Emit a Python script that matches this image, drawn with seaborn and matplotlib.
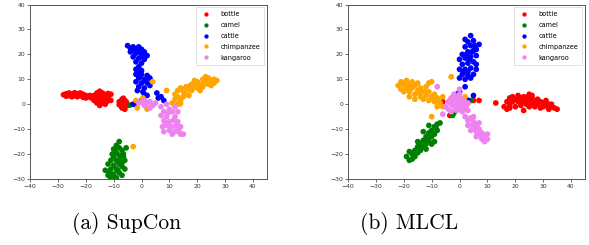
import matplotlib
matplotlib.use("Agg")
import matplotlib.pyplot as plt
import seaborn as sns
import pandas as pd

labels = ["bottle", "camel", "cattle", "chimpanzee", "kangaroo"]
colors = ["red", "green", "blue", "orange", "violet"]
captions = ["(a) SupCon", "(b) MLCL"]
xticks = [-40, -30, -20, -10, 0, 10, 20, 30, 40]
yticks = [-30, -20, -10, 0, 10, 20, 30, 40]

# ---- SupCon ----
supcon_bottle_x = [-28, -27, -27, -26, -26, -25, -25, -24, -24, -23, -23, -22, -22, -21, -21, -20, -20, -19,
                   -18, -17, -17, -16, -16, -16, -15, -15, -15, -15, -14, -14, -14, -13, -13, -13, -12, -12, -11, -11,
                   -8, -7.5, -7, -7, -7, -6, -6, -6, -5.5, -5, -8, -6.5, -2, 0, 1,
                   -26.5, -24.5, -22.5, -20.5, -18.5, -14.5, -12.5, -16.5, -6.5]
supcon_bottle_y = [3.8, 4.2, 3.2, 4.5, 3.5, 4.0, 3.0, 4.6, 3.6, 4.2, 3.0, 4.5, 3.5, 4.0, 2.8, 3.5, 2.5, 3.0,
                   2.5, 3.5, 1.5, 4.5, 2.5, 0.5, 5.2, 3.5, 1.5, -0.5, 4.5, 2.5, 0.5, 3.8, 1.8, 0, 4.3, 2.5, 4.0, 1.5,
                   1.0, -0.5, 2, 0.5, -1.5, 1.5, 0, -2, 1, -0.5, -0.2, -1, 0.8, 1.5, 0.5,
                   3.9, 3.3, 3.9, 3.1, 3.5, 3.0, 1.0, 1.5, 2.4]
supcon_camel_x = [-8, -9, -8, -10, -7, -9, -8, -6.5, -10, -7.5, -9, -11, -6, -8, -10, -12, -7, -9, -11, -13,
                  -6, -8, -10, -12, -9, -11, -7, -5.5, -10.5, -8.5, -4,
                  -9.5, -7, -11.5, -6.5, -10, -8.5]
supcon_camel_y = [-15, -16.5, -17.5, -18, -18.5, -19.5, -20.5, -20, -21, -22, -22.5, -22.5, -22.5, -24, -24.5,
                  -24, -25, -26, -26, -26.5, -26, -27.5, -28, -28.5, -29.5, -29.7, -28.5, -17.5, -20, -23, -0.3,
                  -18, -23.5, -27.5, -21, -29, -26.5]
supcon_cattle_x = [-5, -4, -3, -2, -1, 0, -4, -2, 0, 1, 2, -3, -1, 1, -2, 0, -1, -2, 0,
                   -2, 0, 2, -1, 1, 3, -2, 0, 2, -1, 1, 3, -1.5, 0.5,
                   1, 2, 5.5, 7, 6, 8, -3, -2.5,
                   -3.5, -1.5, 0.5, -0.5, 1.5, -1]
supcon_cattle_y = [23.5, 22.5, 23, 22, 23, 22, 21, 20.5, 20, 21, 19.5, 19, 18.5, 18, 17, 16.5, 15, 14, 13.5,
                   12, 12, 11.5, 10.5, 10, 10.5, 9, 8.5, 8.5, 7, 6.5, 7.5, 5.5, 5,
                   4, 3.5, 4.5, 3, 2.5, 1.5, 0, 0,
                   21.5, 21, 19, 11, 9.5, 12.5]
supcon_chimp_x = [11, 12, 12, 13, 13, 13, 14, 14, 15, 15, 16, 16, 17, 18, 18, 19, 20, 20, 21, 22, 22, 23, 24,
                  24, 25, 26, 27, 25, 21, 17, 14, 19, 23,
                  4, 9, -2, -1.5, 2, 0.5, -3,
                  15.5, 17.5, 19.5, 22.5, 26]
supcon_chimp_y = [0.5, 2, 4, 0, 3, 5.5, 1.5, 6.5, 3, 5, 7, 4, 6, 8, 5.5, 7, 9, 6.5, 8, 10, 7, 9, 10.5,
                  8, 9.5, 10, 9.5, 7.5, 5.5, 3.5, 0.2, 9.5, 11,
                  9, 5.5, 1.5, -1.5, -2, 2.5, -17,
                  6, 7.5, 8, 8.5, 8.5]
supcon_kang_x = [-1, 0, 1, 2, 3, 4, 5, 1, 3,
                 7, 9, 10, 8, 11, 7, 9, 12, 8, 10, 13, 9, 11, 14, 7.5, 10, 12, 15, 14, 11, 13, 8, 12, 13,
                 9.5, 11.5, 8.5, 10.5, 12.5, 13.5]
supcon_kang_y = [0.5, 1, -0.5, 0.5, 1, -0.5, 0.5, 1.5, -1.5,
                 -1, 0, -2, -3, -3, -4.5, -5, -5, -6.5, -7, -7, -8.5, -9, -9, -9, -10.5, -11, -12, -12, -12,
                 -10, -11, -1, -3,
                 -3.5, -6.5, -7.5, -9, -8.5, -11]

# ---- MLCL ----
mlcl_bottle_x = [16, 17, 17, 18, 18, 19, 19, 20, 20, 21, 21, 22, 22, 23, 23, 23, 24, 24, 25, 25, 25, 26, 26,
                 27, 27, 28, 28, 29, 29, 30, 30, 31, 31, 32, 32, 33, 34, 35, 26, 18,
                 13, 7, 5, 3, -6, -3.5,
                 19.5, 21.5, 24.5, 27.5, 30.5, 33]
mlcl_bottle_y = [-1, 1, -2, 2.5, 0, 3, 1, 2, -1, 3.5, 1, 2.5, -0.5, 3, 1, -2.5, 2, 0, 4, 1.5, -1, 2.5, 0.5,
                 1, -1, 2, 0, 1, -1.5, 0.5, -1, 1.5, -0.5, 0, -2, -1, -1.5, -2, 3.5, -1.5,
                 0.5, 1.5, 1.5, 1.5, 1, -4.5,
                 2, 2, 3, 0.5, -0.2, 0]
mlcl_camel_x = [-19, -18, -17, -17, -16, -16, -15, -15, -14, -14, -13, -13, -12, -12, -11, -11, -10, -10,
                -9, -9, -8, -8, -7, -12, -15, -10, -18, -9, -13, -11, -2, -2.5, 4,
                -16.5, -14.5, -12.5, -10.5, -8.5, -13.5]
mlcl_camel_y = [-21, -22.5, -20, -22, -18.5, -21, -17, -19.5, -16, -18.5, -14.5, -17, -13, -16, -11.5, -14.5,
                -10.5, -13, -9, -12, -8, -10.5, -7.5, -18, -15, -16, -19, -15, -11, -8.5, -3.5, -4.5, 1.5,
                -19.5, -17.5, -14.5, -12.5, -9.5, -15.5]
mlcl_cattle_x = [0, 1, 2, 3, 4, 5, 0, 2, 4, 6, 1, 3, 5, 2, 4, 6, 1, 3, 5, 2, 4, 6, 3, 5, 4, 2, 7, 0, 6, 3,
                 2, 5, 3, 0, -1, -3, 1,
                 1.5, 3.5, 4.5, 2.5, 5.5]
mlcl_cattle_y = [10.5, 12, 10, 11.5, 10.5, 12, 14, 14, 14.5, 14, 16, 16.5, 17, 18.5, 19, 19.5, 20, 21, 21.5,
                 23, 23.5, 22, 25, 25.5, 27.5, 26, 24, 18, 16, 13,
                 7, 3.5, 1.5, 5, 4, 0.5, 2,
                 13, 18, 21, 20, 23.5]
mlcl_chimp_x = [-22, -21, -21, -20, -19, -19, -18, -18, -17, -17, -16, -16, -15, -15, -14, -14, -13, -13,
                -12, -12, -11, -11, -10, -10, -9, -9, -8, -8, -7, -6, -6, -18, -20, -11, -16,
                -3, -10, -1, 2, -1, -3.5,
                -20.5, -17.5, -14.5, -12.5, -9.5, -7.5]
mlcl_chimp_y = [7.5, 9, 6, 8, 9.5, 6.5, 8, 5, 9, 6.5, 7.5, 4, 8.5, 5.5, 3, 6.5, 5, 2, 7, 3.5, 5, 1.5, 3, 9,
                1, 4, 2.5, -1, 0.5, 3, -1, 3, 5, 8.5, 2,
                11, -5, 0, 3, 2.5, 1.5,
                8.5, 7, 4.5, 5, 2, 1.5]
mlcl_kang_x = [-5, -4, -4, -3, -3, -3, -2, -2, -1, -1, -1, 0, 0, 1, 1, 1, 2, 2, 3, 3, -2, 0,
               2, 3, 4, 5, 3, 5, 6, 4, 6, 7, 7, 8, 8, 9, 9, 10, 6, 5, 7, 10,
               -8, 0, -6,
               -1.5, 0.5, 2.5, 4.5, 6.5, 8.5]
mlcl_kang_y = [-1, 1, -2, 2.5, 0, -3, 1.5, -1, 3, 0, -2.5, 1.5, -1, 2, 0, -3, 1, -1.5, 0.5, -2.5, 4, 4,
               -5, -6.5, -5.5, -7, -8.5, -9.5, -8, -10.5, -11, -10, -12.5, -11.5, -14, -13, -15, -12, -13,
               -5, -7.5, -14,
               7, 6, -4,
               1, -2, -0.5, -8.5, -9.5, -12.5]

supcon = {"bottle": (supcon_bottle_x, supcon_bottle_y), "camel": (supcon_camel_x, supcon_camel_y),
          "cattle": (supcon_cattle_x, supcon_cattle_y), "chimpanzee": (supcon_chimp_x, supcon_chimp_y),
          "kangaroo": (supcon_kang_x, supcon_kang_y)}
mlcl = {"bottle": (mlcl_bottle_x, mlcl_bottle_y), "camel": (mlcl_camel_x, mlcl_camel_y),
        "cattle": (mlcl_cattle_x, mlcl_cattle_y), "chimpanzee": (mlcl_chimp_x, mlcl_chimp_y),
        "kangaroo": (mlcl_kang_x, mlcl_kang_y)}


def to_df(d):
    rows = []
    for lab in labels:
        xs, ys = d[lab]
        for x, y in zip(xs, ys):
            rows.append({"x": x, "y": y, "label": lab})
    return pd.DataFrame(rows)


fig = plt.figure(figsize=(5.89, 2.45), dpi=100)
positions = [[30 / 589, 66 / 245, 237 / 589, 174.5 / 245],
             [348 / 589, 66 / 245, 237 / 589, 174.5 / 245]]
caption_x = [127 / 589, 409 / 589]
palette = dict(zip(labels, colors))

for pos, d, cap, cx in zip(positions, [supcon, mlcl], captions, caption_x):
    ax = fig.add_axes(pos)
    df = to_df(d)
    sns.scatterplot(data=df, x="x", y="y", hue="label", hue_order=labels, palette=palette,
                    s=17, linewidth=0, ax=ax, legend=True)
    ax.set_xlim(-40, 45)
    ax.set_ylim(-30, 40)
    ax.set_xticks(xticks)
    ax.set_yticks(yticks)
    ax.set_xlabel("")
    ax.set_ylabel("")
    ax.tick_params(labelsize=4.4, length=2, width=0.5, pad=1.5, colors="#333333")
    for sp in ax.spines.values():
        sp.set_color("#555555")
        sp.set_linewidth(0.7)
    leg = ax.legend(loc="upper right", fontsize=4.7, markerscale=0.75, handletextpad=1.2,
                    borderpad=0.6, labelspacing=0.75, frameon=True, fancybox=False,
                    borderaxespad=0.4)
    leg.get_frame().set_linewidth(0.5)
    leg.get_frame().set_edgecolor("#cccccc")
    fig.text(cx, 1 - 223 / 245, cap, ha="center", va="center", fontsize=15.5, family="cmr10")

fig.savefig("out.png", dpi=100)
